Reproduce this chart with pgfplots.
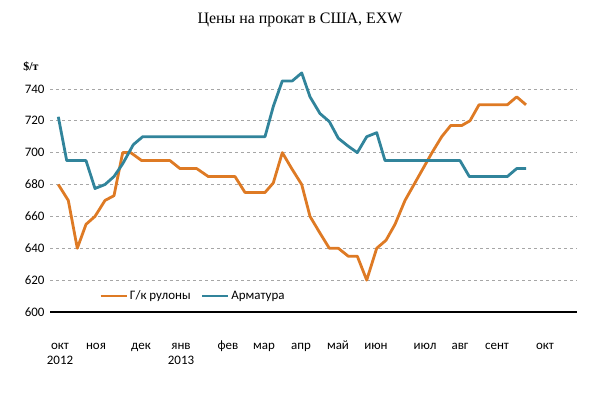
\documentclass[border=0pt]{standalone}
\usepackage{fontspec}
\setmainfont{Carlito}
\newfontfamily\titlefont{Liberation Serif}
\usepackage{pgfplots}
\pgfplotsset{compat=1.18}
\definecolor{corange}{RGB}{222,122,36}
\definecolor{cteal}{RGB}{49,132,155}
\begin{document}
\begin{tikzpicture}[x=1bp,y=1bp]
\useasboundingbox (0,0) rectangle (600,397);
\node[font=\titlefont\fontsize{16}{18}\selectfont] at (300,377) {Цены на прокат в США, EXW};
\node[font=\titlefont\bfseries\fontsize{12}{14}\selectfont] at (31,330) {\$/т};
\begin{axis}[
  at={(50bp,85bp)}, anchor=south west,
  scale only axis, width=527bp, height=255bp,
  xmin=0, xmax=527, ymin=600, ymax=760,
  axis line style={draw=none},
  major tick length=0pt,
  ytick={620,640,...,740},
  extra y ticks={600},
  extra y tick style={grid style={solid,black,line width=1.2bp}},
  ymajorgrids,
  grid style={dashed,gray!70,line width=0.6bp},
  /pgf/number format/assume math mode=true,
  ticklabel style={font=\fontsize{13}{15}\selectfont},
  yticklabel style={xshift=-2bp},
  xtick={10,46,91,131,178,214,251,288,326,375,410,447,495},
  xticklabels={\strut окт\\2012,\strut ноя,\strut дек,\strut янв\\2013,\strut фев,\strut мар,\strut апр,\strut май,\strut июн,\strut июл,\strut авг,\strut сент,\strut окт},
  xticklabel style={align=center,yshift=-24bp,anchor=north},
  legend style={draw=none,fill=white,at={(axis cs:48,610)},anchor=west,
    legend columns=2,font=\fontsize{13}{15}\selectfont,inner sep=1bp,
    /tikz/every even column/.append style={column sep=8bp}},
  legend image code/.code={\draw[#1] (0bp,0bp) -- (26bp,0bp);},
]
\addplot[corange,line width=2.8bp,line join=round] coordinates {
(8.3,680) (18.3,670) (27.3,640) (36,655) (45,660) (55,670) (64,673) (72.7,700) (80.7,700)
(91.7,695) (120,695) (130,690) (146.7,690) (158.3,685) (185,685) (195,675) (215,675)
(223.3,681) (232.3,700) (241.7,690) (251.7,680) (260,660) (269.5,650) (279.3,640) (288.3,640)
(298.3,635) (307.3,635) (316.7,620) (326.7,640) (336,645) (345,655) (355,670) (364,680)
(373,690) (382,700) (391.7,710) (400.7,717) (411.7,717) (420,720) (429,730) (457.3,730)
(466.7,735) (476,730)};
\addlegendentry{Г/к рулоны}
\addplot[cteal,line width=2.8bp,line join=round] coordinates {
(8.3,722.5) (16.7,695) (36,695) (45,677.5) (55,680) (64,685) (72.7,693) (83.3,705) (92.7,710)
(215,710) (223.3,729) (232.3,745) (242.3,745) (251.7,750) (260,735) (270,724.5) (279.3,719.5)
(288.3,709) (298.3,704) (307.3,700) (316.7,710) (326.7,712.5) (335,695) (410,695) (419.3,685)
(457.3,685) (466.7,690) (476,690)};
\addlegendentry{Арматура}
\end{axis}
\end{tikzpicture}
\end{document}
